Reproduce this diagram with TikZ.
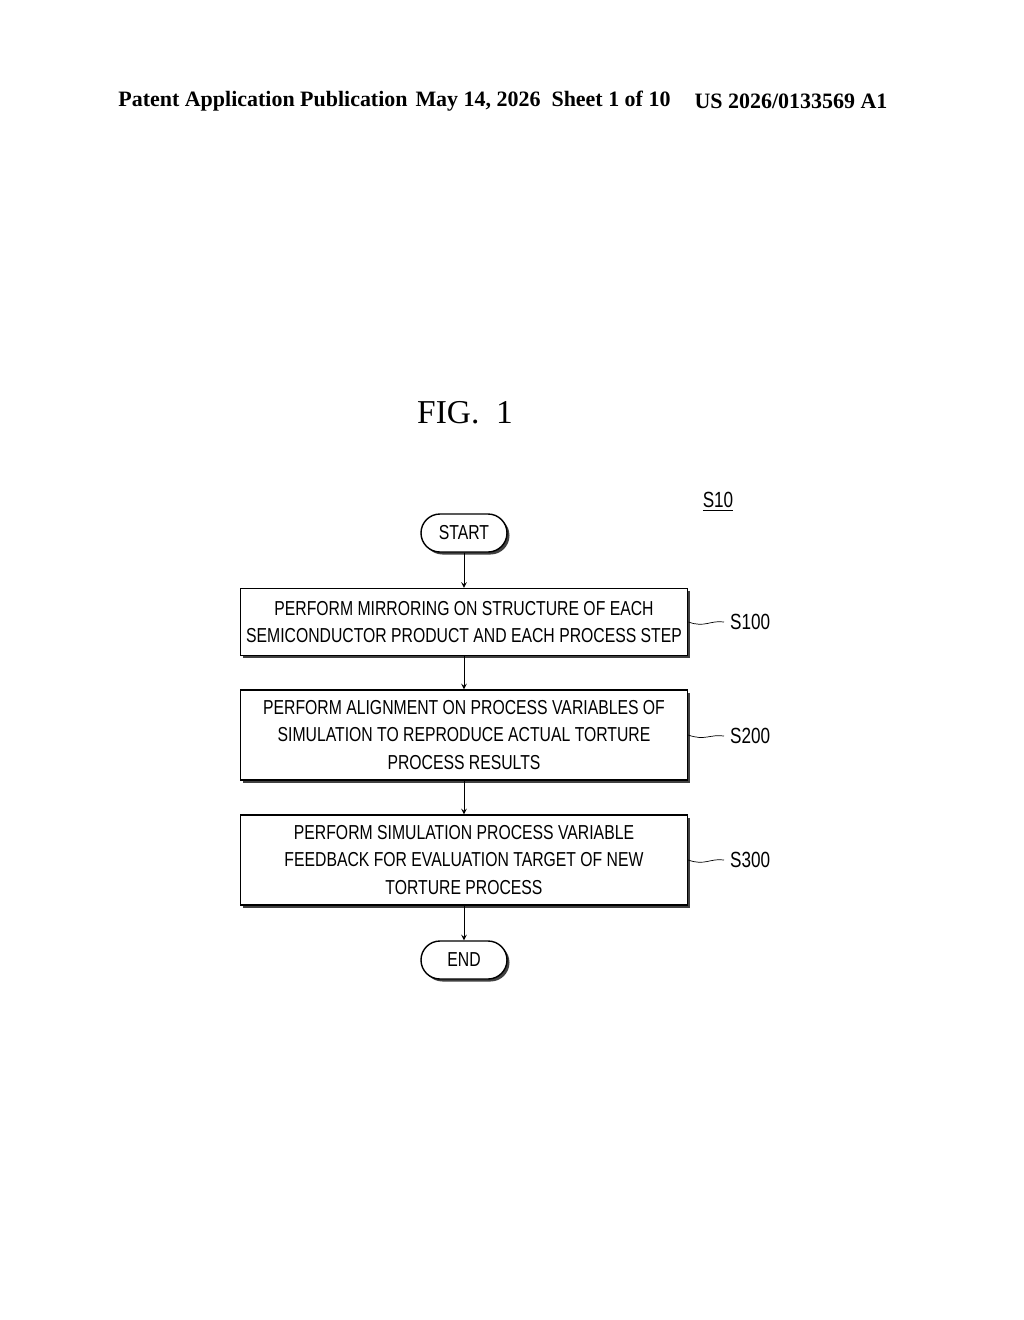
\documentclass[tikz,border=0pt]{standalone}
\usepackage{fontspec}
\setmainfont{Liberation Serif}
\newfontfamily\boxfont[FakeStretch=0.78]{Liberation Sans}
\usetikzlibrary{shadows}
\tikzset{
  box/.style={draw, thick, fill=white, minimum width=447*0.02cm, align=center,
    font=\boxfont\fontsize{11.5}{15.5}\selectfont,
    drop shadow={shadow xshift=0.05cm, shadow yshift=-0.05cm, fill=black!75, opacity=1}},
  term/.style={box, minimum width=86*0.02cm, minimum height=38*0.02cm, rounded corners=0.38cm},
  flow/.style={->, >=stealth, thin},
  tag/.style={font=\boxfont\fontsize{12.5}{14}\selectfont, anchor=west}
}
\begin{document}
\begin{tikzpicture}[x=0.02cm, y=-0.02cm]
\useasboundingbox (0,0) rectangle (1024,1320);
% header
\node[font=\bfseries\fontsize{12.5}{14}\selectfont] (pub) at (263,101) {Patent Application Publication};
\node[font=\bfseries\fontsize{12.5}{14}\selectfont] (date) at (543,101) {May 14, 2026\ \ Sheet 1 of 10};
\node[font=\bfseries\fontsize{12.5}{14}\selectfont] (num) at (791,101) {US 2026/0133569 A1};
\node[font=\fontsize{19}{22}\selectfont] (fig) at (465,413) {FIG.\ \ 1};
\node[font=\boxfont\fontsize{12.5}{14}\selectfont] (ref) at (718,502) {\underline{S10}};

% flow chart
\node[term] (start) at (464,533) {START};
\node[box, minimum height=67*0.02cm] (mirror) at (464,622)
  {PERFORM MIRRORING ON STRUCTURE OF EACH\\SEMICONDUCTOR PRODUCT AND EACH PROCESS STEP};
\node[box, minimum height=90*0.02cm] (align) at (464,735)
  {PERFORM ALIGNMENT ON PROCESS VARIABLES OF\\SIMULATION TO REPRODUCE ACTUAL TORTURE\\PROCESS RESULTS};
\node[box, minimum height=90*0.02cm] (feedback) at (464,860)
  {PERFORM SIMULATION PROCESS VARIABLE\\FEEDBACK FOR EVALUATION TARGET OF NEW\\TORTURE PROCESS};
\node[term] (finish) at (464,960) {END};

\draw[flow] (start) -- (mirror);
\draw[flow] (mirror) -- (align);
\draw[flow] (align) -- (feedback);
\draw[flow] (feedback) -- (finish);

% step labels
\node[tag] (s100) at (724,622) {S100};
\node[tag] (s200) at (724,736) {S200};
\node[tag] (s300) at (724,860) {S300};
\draw (mirror.east) .. controls (705,628) and (710,620) .. (s100.west);
\draw (align.east) .. controls (705,741) and (710,734) .. (s200.west);
\draw (feedback.east) .. controls (705,866) and (710,858) .. (s300.west);
\end{tikzpicture}
\end{document}
